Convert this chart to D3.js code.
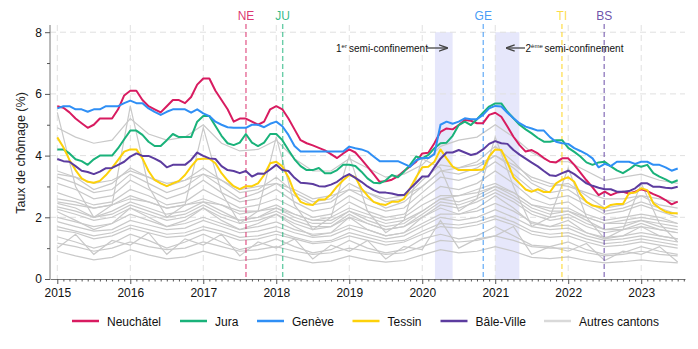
<!DOCTYPE html>
<html><head><meta charset="utf-8">
<script src="https://cdn.jsdelivr.net/npm/d3@7"></script>
<style>body{margin:0;background:#fff;} svg{display:block;font-family:"Liberation Sans",Arial,Helvetica,sans-serif;}</style>
</head><body><svg id="c" width="698" height="349"></svg>
<script>
// ---------- DATA ----------
const startYear = 2015; // monthly series start Jan 2015
const neuchatel = [5.6,5.55,5.4,5.2,5.05,4.9,5.0,5.2,5.2,5.2,5.5,5.95,
 6.1,6.1,5.8,5.6,5.5,5.4,5.6,5.8,5.8,5.7,5.9,6.3,
 6.5,6.5,6.1,5.8,5.5,5.1,5.2,5.2,5.1,5.0,5.1,5.5,
 5.6,5.5,5.2,4.85,4.5,4.4,4.33,4.25,4.17,4.05,3.92,4.07,
 4.2,4.1,3.88,3.64,3.4,3.15,3.17,3.22,3.33,3.5,3.65,3.8,
 4.07,4.09,4.4,4.77,4.88,4.85,4.99,5.15,5.13,5.05,5.05,5.32,
 5.39,5.26,4.94,4.61,4.34,4.13,4.18,4.07,3.92,3.8,3.78,3.91,
 3.91,3.7,3.45,3.2,2.97,2.72,2.83,2.72,2.8,2.83,2.77,2.83,
 2.91,2.85,2.75,2.67,2.56,2.42,2.51];
const jura = [4.2,4.2,4.07,3.88,3.82,3.7,3.88,4.0,4.0,4.0,4.24,4.53,
 4.81,4.81,4.67,4.45,4.31,4.31,4.5,4.7,4.6,4.6,4.6,5.1,
 5.28,5.28,4.96,4.64,4.4,4.34,4.42,4.7,4.42,4.31,4.42,4.7,
 4.7,4.5,4.18,3.88,3.66,3.53,3.53,3.6,3.43,3.43,3.53,3.7,
 3.7,3.66,3.48,3.26,3.12,3.1,3.2,3.37,3.3,3.48,3.7,3.97,
 3.91,4.02,4.24,4.4,4.42,4.64,4.99,5.1,4.99,5.18,5.39,5.59,
 5.69,5.69,5.42,5.21,5.0,4.85,4.72,4.57,4.45,4.45,4.5,4.5,
 4.25,4.12,3.97,3.78,3.7,3.78,3.8,3.65,3.52,3.43,3.55,3.7,
 3.64,3.7,3.43,3.32,3.23,3.12,3.2];
const geneve = [5.53,5.6,5.6,5.5,5.5,5.42,5.5,5.5,5.6,5.6,5.6,5.7,
 5.78,5.7,5.7,5.53,5.42,5.32,5.42,5.5,5.5,5.5,5.39,5.5,
 5.37,5.28,5.1,5.0,4.92,4.9,4.9,4.9,5.0,5.0,4.92,5.03,
 5.1,4.95,4.67,4.31,4.13,4.13,4.13,4.13,4.13,4.13,4.13,4.13,
 4.29,4.24,4.2,4.13,3.97,3.82,3.82,3.82,3.82,3.73,3.64,3.85,
 3.92,3.92,4.05,5.0,5.1,5.03,5.1,5.21,5.18,5.18,5.32,5.53,
 5.61,5.59,5.39,5.21,5.05,4.94,4.88,4.81,4.81,4.6,4.45,4.4,
 4.38,4.24,4.15,4.05,3.91,3.62,3.73,3.66,3.8,3.8,3.8,3.73,
 3.8,3.8,3.7,3.7,3.62,3.51,3.58];
const tessin = [4.59,4.27,3.86,3.53,3.26,3.15,3.12,3.18,3.37,3.6,3.86,4.13,
 4.2,4.2,3.91,3.5,3.21,3.1,3.01,3.1,3.18,3.37,3.64,3.88,
 3.9,3.9,3.75,3.43,3.19,3.01,2.91,3.01,3.01,3.1,3.37,3.75,
 3.8,3.65,3.3,2.8,2.5,2.42,2.4,2.58,2.58,2.75,3.0,3.2,
 3.37,3.3,2.94,2.7,2.5,2.43,2.4,2.5,2.5,2.6,2.94,3.3,
 3.62,3.64,3.8,4.2,3.91,3.64,3.53,3.53,3.53,3.53,3.55,3.97,
 4.2,4.18,3.78,3.3,3.1,2.9,2.83,2.91,2.82,2.82,3.1,3.22,
 3.3,3.15,2.75,2.5,2.38,2.34,2.29,2.4,2.43,2.43,2.78,2.8,
 2.94,2.88,2.45,2.3,2.18,2.13,2.13];
const baleVille = [3.89,3.82,3.8,3.66,3.51,3.47,3.4,3.48,3.59,3.6,3.7,3.8,
 3.97,4.07,3.99,3.99,3.9,3.8,3.62,3.7,3.7,3.7,3.86,4.1,
 3.99,3.91,3.89,3.66,3.53,3.5,3.43,3.5,3.32,3.42,3.41,3.55,
 3.7,3.53,3.5,3.28,3.12,3.1,3.08,3.01,3.0,3.06,3.15,3.3,
 3.4,3.28,3.15,3.0,2.88,2.8,2.8,2.77,2.72,2.72,2.93,3.12,
 3.32,3.32,3.62,3.9,4.1,4.1,4.18,4.1,4.02,4.07,4.2,4.38,
 4.47,4.4,4.38,4.18,4.03,3.9,3.77,3.65,3.5,3.36,3.34,3.43,
 3.51,3.4,3.25,3.1,3.02,2.96,2.91,2.91,2.83,2.83,2.85,2.94,
 3.1,3.1,2.99,2.99,2.96,2.94,2.99];

// Other cantons: quarterly readings (Jan, Apr, Jul, Oct) from Jan 2015 to Jul 2023
const autresCantons = [
 [4.9,4.6,4.4,4.5, 5.2,4.7,4.5,4.6, 5.0,4.4,4.15,4.2, 4.5,3.9,3.5,3.5, 3.9,3.6,3.3,3.4, 3.7,4.3,4.5,4.6, 5.0,4.6,4.1,3.8, 3.8,3.5,3.2,3.3, 3.4,3.2,3.1],
 [5.4,3.0,2.0,2.4, 5.6,3.0,2.0,2.4, 4.9,2.8,1.8,2.2, 4.6,2.4,1.6,2.0, 4.0,2.2,1.5,1.9, 3.9,3.6,2.2,2.6, 4.6,3.0,1.7,2.0, 3.6,2.0,1.3,1.6, 3.1,1.8,1.2],
 [1.0,1.45,0.8,1.25, 1.1,1.5,0.8,1.3, 1.1,1.45,0.75,1.2, 1.0,1.3,0.65,1.1, 0.9,1.25,0.65,1.05, 0.95,1.9,1.0,1.3, 1.4,1.7,0.8,1.05, 0.9,1.15,0.6,0.9, 0.8,1.05,0.55],
 [3.5,3.3,2.9,3.1, 3.6,3.3,3.0,3.2, 3.6,3.2,2.8,2.9, 3.3,2.8,2.5,2.6, 3.1,2.8,2.5,2.6, 3.2,3.7,3.6,3.8, 4.3,3.8,3.2,3.0, 3.1,2.7,2.3,2.4, 2.7,2.4,2.3],
 [3.4,3.3,3.1,3.2, 3.5,3.3,3.1,3.2, 3.4,3.2,2.9,3.0, 3.1,2.9,2.6,2.7, 2.9,2.8,2.6,2.7, 3.0,3.5,3.6,3.7, 4.0,3.7,3.3,3.1, 3.0,2.8,2.6,2.6, 2.7,2.6,2.5],
 [3.3,3.1,2.8,2.9, 3.4,3.1,2.8,3.0, 3.4,3.0,2.6,2.8, 3.1,2.7,2.4,2.5, 2.9,2.6,2.3,2.5, 3.0,3.5,3.4,3.6, 4.0,3.6,3.1,2.8, 2.9,2.5,2.2,2.3, 2.5,2.3,2.1],
 [3.1,2.9,2.6,2.7, 3.2,2.9,2.6,2.8, 3.2,2.8,2.5,2.6, 2.9,2.5,2.2,2.3, 2.7,2.4,2.2,2.3, 2.8,3.3,3.2,3.4, 3.8,3.4,2.9,2.6, 2.7,2.4,2.1,2.2, 2.4,2.2,2.0],
 [2.8,2.6,2.4,2.5, 2.9,2.7,2.4,2.5, 2.9,2.6,2.3,2.4, 2.6,2.3,2.0,2.1, 2.5,2.2,2.0,2.1, 2.6,3.0,2.9,3.1, 3.5,3.1,2.6,2.4, 2.5,2.1,1.9,2.0, 2.1,2.0,1.8],
 [2.6,2.5,2.3,2.4, 2.7,2.5,2.3,2.4, 2.6,2.4,2.1,2.2, 2.4,2.1,1.9,2.0, 2.3,2.1,1.9,2.0, 2.4,2.7,2.7,2.9, 3.1,2.8,2.4,2.3, 2.3,2.0,1.8,1.9, 2.0,1.9,1.8],
 [2.5,2.4,2.3,2.4, 2.6,2.5,2.3,2.4, 2.5,2.4,2.2,2.2, 2.3,2.1,1.9,1.9, 2.2,2.0,1.8,1.9, 2.2,2.6,2.7,2.8, 3.0,2.8,2.4,2.2, 2.2,2.0,1.8,1.8, 1.9,1.8,1.7],
 [2.45,2.3,2.0,2.2, 2.5,2.3,2.1,2.2, 2.5,2.2,1.9,2.0, 2.3,2.0,1.8,1.8, 2.2,1.9,1.7,1.8, 2.2,2.6,2.5,2.7, 3.0,2.7,2.3,2.1, 2.2,1.9,1.6,1.7, 1.9,1.7,1.6],
 [2.34,2.2,2.0,2.1, 2.4,2.2,2.0,2.1, 2.4,2.1,1.9,2.0, 2.2,1.9,1.7,1.7, 2.1,1.8,1.6,1.7, 2.1,2.5,2.4,2.6, 2.9,2.6,2.2,2.0, 2.1,1.8,1.6,1.6, 1.8,1.6,1.5],
 [2.26,2.1,1.9,2.0, 2.3,2.1,1.9,2.0, 2.3,2.0,1.8,1.9, 2.1,1.8,1.6,1.7, 2.0,1.8,1.6,1.7, 2.0,2.4,2.3,2.5, 2.8,2.5,2.1,1.9, 2.0,1.7,1.5,1.6, 1.7,1.6,1.5],
 [2.18,1.9,1.6,1.8, 2.3,2.0,1.7,1.9, 2.3,1.9,1.6,1.8, 2.1,1.7,1.4,1.5, 2.0,1.6,1.4,1.5, 2.0,2.3,2.1,2.3, 2.7,2.3,1.8,1.7, 1.9,1.5,1.3,1.4, 1.7,1.4,1.3],
 [2.0,1.85,1.7,1.8, 2.1,1.9,1.7,1.8, 2.0,1.8,1.6,1.7, 1.85,1.6,1.45,1.5, 1.75,1.6,1.4,1.5, 1.8,2.1,2.1,2.2, 2.45,2.2,1.85,1.7, 1.75,1.5,1.35,1.4, 1.5,1.4,1.3],
 [1.86,1.7,1.55,1.6, 1.9,1.75,1.6,1.65, 1.9,1.7,1.5,1.55, 1.7,1.5,1.35,1.4, 1.65,1.45,1.3,1.4, 1.7,2.0,1.9,2.0, 2.25,2.0,1.7,1.6, 1.65,1.4,1.25,1.3, 1.4,1.3,1.2],
 [1.7,1.55,1.4,1.5, 1.75,1.6,1.45,1.5, 1.7,1.55,1.35,1.4, 1.55,1.35,1.2,1.25, 1.5,1.35,1.2,1.25, 1.55,1.8,1.75,1.85, 2.05,1.85,1.55,1.45, 1.5,1.3,1.15,1.2, 1.3,1.2,1.1],
 [1.59,1.5,1.3,1.4, 1.65,1.5,1.35,1.4, 1.6,1.45,1.25,1.3, 1.45,1.3,1.15,1.2, 1.4,1.25,1.1,1.2, 1.45,1.7,1.65,1.75, 1.95,1.75,1.45,1.35, 1.4,1.2,1.05,1.1, 1.2,1.1,1.0],
 [1.37,1.2,1.0,1.15, 1.45,1.25,1.0,1.2, 1.45,1.2,0.95,1.1, 1.3,1.05,0.85,0.95, 1.25,1.0,0.85,0.95, 1.3,1.45,1.3,1.4, 1.7,1.4,1.1,1.05, 1.2,0.95,0.8,0.85, 1.05,0.9,0.8],
 [1.16,1.05,0.9,1.0, 1.2,1.05,0.95,1.0, 1.2,1.05,0.9,0.95, 1.05,0.9,0.8,0.85, 1.0,0.9,0.8,0.85, 1.05,1.25,1.2,1.25, 1.4,1.25,1.05,1.0, 1.0,0.85,0.75,0.8, 0.9,0.8,0.75],
 [0.9,0.75,0.62,0.7, 0.95,0.78,0.65,0.72, 0.9,0.75,0.6,0.66, 0.8,0.65,0.52,0.58, 0.75,0.62,0.55,0.6, 0.78,0.95,0.85,0.9, 1.05,0.9,0.7,0.66, 0.72,0.6,0.52,0.56, 0.62,0.56,0.52]
];

const seriesNames = ["Neuchâtel","Jura","Genève","Tessin","Bâle-Ville"];
const seriesValues = [neuchatel, jura, geneve, tessin, baleVille];
const seriesColors = ["#d81b60","#1ab27a","#2f8ff5","#fdd10a","#5c3c9f"];
const autresLabel = "Autres cantons";
const grayColor = "#c9c9c9";

const yearTicks = [2015,2016,2017,2018,2019,2020,2021,2022,2023];
const yTicks = [0,2,4,6,8];
const yMinorTicks = [1,3,5,7];
const eventCodes = ["NE","JU","GE","TI","BS"];
const eventDates = [2017.585, 2018.088, 2020.836, 2021.914, 2022.493];
const eventSeries = [0,1,2,3,4];
const confinements = [[2020.174, 2020.416],[2021.0, 2021.33]];
const yTitle = "Taux de chômage (%)";

// ---------- CHART ----------
const svg = d3.select("#c");
const x = d3.scaleLinear().domain([2014.9, 2023.6]).range([50, 685]);
const y = d3.scaleLinear().domain([0, 8.233]).range([279, 25]);

// confinement bands
svg.append("g").selectAll("rect").data(confinements).join("rect")
  .attr("x", d => x(d[0])).attr("width", d => x(d[1]) - x(d[0]))
  .attr("y", y(8)).attr("height", y(0) - y(8))
  .attr("fill", "#e6e7fb");

// grid
const grid = svg.append("g").attr("stroke", "#e0e0e0").attr("stroke-width", 1).attr("stroke-dasharray", "6,4");
grid.selectAll(".v").data(yearTicks).join("line")
  .attr("x1", d => x(d)).attr("x2", d => x(d)).attr("y1", 25).attr("y2", y(0));
grid.selectAll(".h").data(yTicks.filter(d => d > 0)).join("line")
  .attr("x1", 50).attr("x2", 685).attr("y1", d => y(d)).attr("y2", d => y(d));

const line = d3.line().x(d => x(d[0])).y(d => y(d[1]));

// gray lines
svg.append("g").selectAll("path").data(autresCantons).join("path")
  .attr("d", vals => line(vals.map((v, i) => [startYear + i * 0.25, v])))
  .attr("fill", "none").attr("stroke", grayColor).attr("stroke-width", 1.2);

// event lines
const ev = svg.append("g");
eventDates.forEach((dt, i) => {
  const c = seriesColors[eventSeries[i]];
  ev.append("line").attr("x1", x(dt)).attr("x2", x(dt)).attr("y1", 24).attr("y2", y(0))
    .attr("stroke", c).attr("stroke-opacity", 0.65).attr("stroke-width", 1.4).attr("stroke-dasharray", "5,3");
  ev.append("text").attr("x", x(dt)).attr("y", 20).attr("text-anchor", "middle")
    .attr("font-size", 12).attr("fill", c).attr("fill-opacity", i === 3 ? 0.75 : 0.9).text(eventCodes[i]);
});

// colored lines
svg.append("g").selectAll("path").data(seriesValues).join("path")
  .attr("d", vals => line(vals.map((v, i) => [startYear + i / 12, v])))
  .attr("fill", "none").attr("stroke", (d, i) => seriesColors[i]).attr("stroke-width", 2)
  .attr("stroke-linejoin", "round");

// axes
const yAxis = svg.append("g").attr("transform", "translate(50,0)")
  .call(d3.axisLeft(y).tickValues(yTicks).tickSize(5).tickSizeOuter(0).tickPadding(3));
svg.append("g").attr("transform", "translate(50,0)")
  .call(d3.axisLeft(y).tickValues(yMinorTicks).tickSize(3).tickFormat(""))
  .call(g => g.select(".domain").remove());
yAxis.select(".domain").attr("d", `M0,25V${y(0)}`);

const monthTicks = d3.range(0, 8 * 12 + 8).map(m => startYear + m / 12).filter(v => !yearTicks.includes(Math.round(v*1000)/1000));
const xAxis = svg.append("g").attr("transform", `translate(0,${y(0)})`)
  .call(d3.axisBottom(x).tickValues(yearTicks).tickFormat(d3.format("d")).tickSize(5).tickSizeOuter(0).tickPadding(4));
svg.append("g").attr("transform", `translate(0,${y(0)})`)
  .call(d3.axisBottom(x).tickValues(monthTicks).tickSize(2.5).tickFormat(""))
  .call(g => g.select(".domain").remove());

svg.selectAll(".domain").attr("stroke", "#777");
svg.selectAll(".tick line").attr("stroke", "#555");
svg.selectAll(".tick text").attr("font-size", 12).attr("fill", "#111")
  .attr("font-family", "'Liberation Sans',Arial,sans-serif");

// y title
svg.append("text").attr("transform", "translate(25,153) rotate(-90)")
  .attr("text-anchor", "middle").attr("font-size", 12.5).attr("fill", "#222").text(yTitle);

// annotations
const ann = svg.append("g").attr("font-size", 10).attr("fill", "#111");
const t1 = ann.append("text").attr("x", 336).attr("y", 51.5);
t1.append("tspan").text("1");
t1.append("tspan").attr("font-size", 6).attr("dy", -4).text("er");
t1.append("tspan").attr("dy", 4).attr("x", 349).text("semi-confinement");
const t2 = ann.append("text").attr("x", 525.5).attr("y", 51.5);
t2.append("tspan").text("2");
t2.append("tspan").attr("font-size", 6).attr("dy", -4).text("ème");
t2.append("tspan").attr("dy", 4).attr("x", 544.5).text("semi-confinement");

svg.append("defs").append("marker").attr("id", "ah").attr("viewBox", "0 0 10 10")
  .attr("refX", 9).attr("refY", 5).attr("markerWidth", 7).attr("markerHeight", 7).attr("orient", "auto-start-reverse")
  .append("path").attr("d", "M0,1.5L10,5L0,8.5").attr("fill", "none").attr("stroke", "#444").attr("stroke-width", 1.5);
svg.append("line").attr("x1", 427).attr("x2", 447).attr("y1", 48).attr("y2", 48)
  .attr("stroke", "#444").attr("stroke-width", 1.3).attr("marker-end", "url(#ah)");
svg.append("line").attr("x1", 525).attr("x2", 506.5).attr("y1", 48).attr("y2", 48)
  .attr("stroke", "#444").attr("stroke-width", 1.3).attr("marker-end", "url(#ah)");

// legend
const legNames = seriesNames.concat([autresLabel]);
const legColors = seriesColors.concat(["#d9d9d9"]);
const legX = [72, 180, 257, 352.5, 440.5, 544];
const lg = svg.append("g");
legNames.forEach((n, i) => {
  lg.append("line").attr("x1", legX[i]).attr("x2", legX[i] + 27).attr("y1", 321).attr("y2", 321)
    .attr("stroke", legColors[i]).attr("stroke-width", 2.5);
  lg.append("text").attr("x", legX[i] + 35).attr("y", 325.5).attr("font-size", 12).attr("fill", "#111").text(n);
});
</script></body></html>
